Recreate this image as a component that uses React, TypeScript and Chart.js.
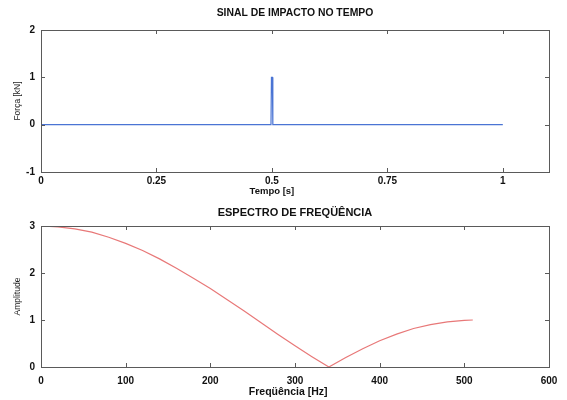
import React, { useEffect, useRef } from "react";
import { Chart, registerables } from "chart.js";

Chart.register(...registerables);

// Top plot: impact signal in time
const timeS = [0, 0.498, 0.499, 0.5, 0.501, 0.502, 1];
const forceKN = [0, 0, 1, 1, 1, 0, 0];
const timeTicks = [0, 0.25, 0.5, 0.75, 1];

// Bottom plot: frequency spectrum
const freqHz = [0, 20, 40, 60, 80, 100, 120, 140, 160, 180, 200, 220, 240, 260, 280, 300, 320, 340, 360, 380, 400, 420, 440, 460, 480, 500, 510];
const amplitude = [3.0, 2.98, 2.94, 2.87, 2.76, 2.63, 2.48, 2.3, 2.1, 1.89, 1.67, 1.43, 1.19, 0.94, 0.69, 0.45, 0.22, 0.0, 0.2, 0.39, 0.56, 0.7, 0.82, 0.9, 0.96, 0.99, 1.0];

const FONT = "'Liberation Sans', Arial, sans-serif";
const AXIS_COLOR = "#5a5a5a";

const boxPlugin = {
  id: "matlabBox",
  afterDatasetsDraw(chart: any, _args: any, pluginOpts: any) {
    const { ctx, chartArea: a, scales } = chart;
    const L = 4;
    ctx.save();
    ctx.strokeStyle = AXIS_COLOR;
    ctx.lineWidth = 1;
    ctx.strokeRect(Math.round(a.left) + 0.5, Math.round(a.top) + 0.5, Math.round(a.width), Math.round(a.height));
    const line = (x1: number, y1: number, x2: number, y2: number) => {
      ctx.beginPath();
      ctx.moveTo(x1, y1);
      ctx.lineTo(x2, y2);
      ctx.stroke();
    };
    const xs = scales.x;
    const ys = scales.y;
    xs.ticks.forEach((t: any) => {
      const px = Math.round(xs.getPixelForValue(t.value)) + 0.5;
      line(px, a.bottom, px, a.bottom - L);
      line(px, a.top, px, a.top + L);
    });
    ys.ticks.forEach((t: any) => {
      const py = Math.round(ys.getPixelForValue(t.value)) + 0.5;
      line(a.left, py, a.left + L, py);
      line(a.right, py, a.right - L, py);
    });

    // titles
    const o = pluginOpts || {};
    ctx.fillStyle = "#111";
    ctx.textAlign = "center";
    ctx.textBaseline = "middle";
    if (o.title) {
      ctx.font = `bold ${o.titleSize}px ${FONT}`;
      ctx.fillText(o.title, (a.left + a.right) / 2, o.titleY);
    }
    if (o.xTitle) {
      ctx.font = `bold ${o.xTitleSize}px ${FONT}`;
      const cx = xs.getPixelForValue(o.xTitleAt);
      ctx.fillText(o.xTitle, cx, o.xTitleY);
    }
    ctx.restore();
  },
};

function makeConfig(opts: {
  xs: number[];
  ys: number[];
  color: string;
  width: number;
  title: string;
  titleSize: number;
  titleY: number;
  xTitle: string;
  xTitleSize: number;
  xTitleY: number;
  xTitleAt: number;
  yTitle: string;
  xMin: number;
  xMax: number;
  xStep: number;
  xTickList?: number[];
  yMin: number;
  yMax: number;
  topPad: number;
  xAxisHeight: number;
  xTickPad: number;
}): any {
  const data = opts.xs.map((x, i) => ({ x, y: opts.ys[i] }));
  return {
    type: "line",
    data: {
      datasets: [
        {
          data,
          borderColor: opts.color,
          borderWidth: opts.width,
          pointRadius: 0,
          fill: false,
          tension: 0,
        },
      ],
    },
    plugins: [boxPlugin],
    options: {
      animation: false,
      responsive: false,
      maintainAspectRatio: false,
      layout: { padding: { left: 0, right: 18, top: opts.topPad, bottom: 0 } },
      plugins: {
        legend: { display: false },
        tooltip: { enabled: false },
        title: { display: false },
        matlabBox: {
          title: opts.title,
          titleSize: opts.titleSize,
          titleY: opts.titleY,
          xTitle: opts.xTitle,
          xTitleSize: opts.xTitleSize,
          xTitleY: opts.xTitleY,
          xTitleAt: opts.xTitleAt,
        },
      },
      scales: {
        x: {
          type: "linear",
          min: opts.xMin,
          max: opts.xMax,
          grid: { display: false, drawTicks: false },
          border: { display: false },
          afterFit: (s: any) => {
            s.height = opts.xAxisHeight;
          },
          afterBuildTicks: opts.xTickList
            ? (s: any) => {
                s.ticks = opts.xTickList!.map((v) => ({ value: v }));
              }
            : undefined,
          ticks: {
            stepSize: opts.xStep,
            includeBounds: false,
            autoSkip: false,
            maxRotation: 0,
            padding: opts.xTickPad,
            color: "#111",
            font: { family: FONT, size: 10, weight: "bold" },
            callback: (v: any) => String(v),
          },
        },
        y: {
          type: "linear",
          min: opts.yMin,
          max: opts.yMax,
          grid: { display: false, drawTicks: false },
          border: { display: false },
          afterFit: (s: any) => {
            s.width = 41;
          },
          ticks: {
            stepSize: 1,
            padding: 6,
            color: "#111",
            font: { family: FONT, size: 10, weight: "bold" },
            callback: (v: any) => String(v),
          },
          title: {
            display: true,
            text: opts.yTitle,
            color: "#222",
            font: { family: FONT, size: 8.5 },
            padding: { top: 13, bottom: 0 },
          },
        },
      },
    },
  };
}

function ChartCanvas({ config, top }: { config: any; top: number }) {
  const ref = useRef<HTMLCanvasElement | null>(null);
  useEffect(() => {
    if (!ref.current) return;
    const chart = new Chart(ref.current, config);
    return () => chart.destroy();
  }, [config]);
  return (
    <div style={{ position: "absolute", left: 0, top, width: 567, height: 200 }}>
      <canvas ref={ref} width={567} height={200} style={{ width: 567, height: 200, display: "block" }} />
    </div>
  );
}

const topConfig = makeConfig({
  xs: timeS,
  ys: forceKN,
  color: "#4a74d4",
  width: 1.2,
  title: "SINAL DE IMPACTO NO TEMPO",
  titleSize: 10.4,
  titleY: 13,
  xTitle: "Tempo [s]",
  xTitleSize: 9.5,
  xTitleY: 191,
  xTitleAt: 0.5,
  yTitle: "Força [kN]",
  xMin: 0,
  xMax: 1.1,
  xStep: 0.25,
  xTickList: timeTicks,
  yMin: -1,
  yMax: 2,
  topPad: 30,
  xAxisHeight: 28,
  xTickPad: 3.5,
});

const bottomConfig = makeConfig({
  xs: freqHz,
  ys: amplitude,
  color: "#e87878",
  width: 1.2,
  title: "ESPECTRO DE FREQÜÊNCIA",
  titleSize: 11,
  titleY: 13,
  xTitle: "Freqüência [Hz]",
  xTitleSize: 10.5,
  xTitleY: 192,
  xTitleAt: 292,
  yTitle: "Amplitude",
  xMin: 0,
  xMax: 600,
  xStep: 100,
  yMin: 0,
  yMax: 3,
  topPad: 26,
  xAxisHeight: 33,
  xTickPad: 8,
});

export default function App() {
  return (
    <div style={{ position: "absolute", left: 0, top: 0, width: 567, height: 400, background: "#fff" }}>
      <ChartCanvas config={topConfig} top={0} />
      <ChartCanvas config={bottomConfig} top={200} />
    </div>
  );
}
